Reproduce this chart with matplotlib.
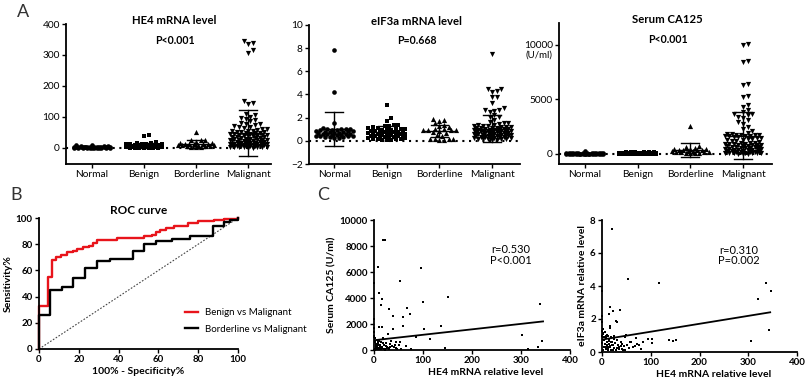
import matplotlib
matplotlib.use("Agg")
import matplotlib.pyplot as plt
import numpy as np

plt.rcParams['font.family'] = ['Lato', 'DejaVu Sans']

# ---- data ----
groups = ["Normal", "Benign", "Borderline", "Malignant"]
group_markers = ["o", "s", "^", "v"]

he4_normal = [10, 8, 6, 5.5, 5, 4.2, 4, 3.8, 3.3, 3.1, 3, 2.8, 2.7, 2.5, 2.4, 2.1, 2, 1.9,
              1.8, 1.7, 1.6, 1.5, 1.4, 1.2, 1.1, 1, 0.9, 0.9, 0.8, 0.7, 0.6, 0.5, 0.4, 0.3, 0.2]
he4_benign = [41, 40, 20, 16, 15, 14, 13, 12, 11.5, 11, 10, 9.6, 9, 8.7, 8.2, 8, 7.5, 7.1,
              7, 6.6, 6.2, 6, 5.7, 5.4, 5.1, 5, 4.6, 4.3, 4, 3.8, 3.6, 3.3, 3.1, 3, 2.8, 2.5,
              2.3, 2.1, 2, 1.8, 1.6, 1.5, 1.3, 1.1, 1, 0.9, 0.8, 0.5, 0.4, 0.3]
he4_border = [50, 27, 26, 24, 18, 16, 15, 14, 13, 12, 12, 11, 10, 10, 9, 8, 7, 6, 5, 4, 3, 2]
he4_malig = [345, 340, 337, 315, 306, 152, 146, 142, 111, 106, 101, 97, 93, 89, 86, 81, 78,
             76, 73, 70, 69, 66, 64, 62, 60, 59, 56, 55, 54, 52, 51, 50, 49, 48, 47, 46, 45,
             44, 43, 42, 41, 40, 39, 38, 37, 36, 35, 34, 33, 32, 31, 30, 29, 28, 27, 26, 26,
             25, 24, 23, 22, 21, 21, 20, 19, 18, 17, 17, 16, 15, 14, 14, 13, 12, 12, 11, 10,
             10, 9, 8, 8, 7, 7, 6, 6, 5, 5, 4, 4, 3, 3, 2, 2, 1.5, 1, 0.5]
he4_mean = [3, 7, 13, 48]
he4_sd = [2, 8, 13, 75]

eif_normal = [7.8, 4.2, 1.5, 1.1, 1.05, 1.0, 1.0, 0.98, 0.95, 0.92, 0.9, 0.88, 0.85, 0.82,
              0.8, 0.78, 0.75, 0.7, 0.68, 0.65, 0.62, 0.6, 0.58, 0.55, 0.52, 0.5, 0.48, 0.45,
              0.42, 0.4, 0.38, 0.35, 0.32, 0.3, 0.28, 0.25]
eif_benign = [3.1, 2.0, 1.7, 1.4, 1.35, 1.3, 1.25, 1.2, 1.15, 1.1, 1.05, 1.0, 0.98, 0.95,
              0.92, 0.9, 0.88, 0.85, 0.82, 0.8, 0.78, 0.75, 0.72, 0.7, 0.68, 0.65, 0.62, 0.6,
              0.58, 0.55, 0.52, 0.5, 0.48, 0.45, 0.42, 0.4, 0.38, 0.35, 0.32, 0.3, 0.28, 0.25,
              0.22, 0.2, 0.18, 0.15, 0.12, 0.1, 0.08, 0.05]
eif_border = [1.85, 1.8, 1.75, 1.5, 1.4, 1.25, 1.2, 1.0, 0.98, 0.96, 0.95, 0.93, 0.9, 0.85,
              0.8, 0.7, 0.5, 0.45, 0.2, 0.18, 0.15, 0.12, 0.1, 0.1]
eif_malig = [7.5, 4.5, 4.45, 4.3, 4.2, 3.8, 3.75, 3.3, 2.8, 2.7, 2.65, 2.6, 2.5, 2.2, 2.1,
             2.05, 1.8, 1.6, 1.55, 1.5, 1.45, 1.4, 1.35, 1.3, 1.28, 1.25, 1.22, 1.2, 1.18,
             1.15, 1.12, 1.1, 1.08, 1.05, 1.02, 1.0, 0.98, 0.96, 0.94, 0.92, 0.9, 0.88, 0.86,
             0.84, 0.82, 0.8, 0.78, 0.76, 0.74, 0.72, 0.7, 0.68, 0.66, 0.64, 0.62, 0.6, 0.58,
             0.56, 0.54, 0.52, 0.5, 0.48, 0.46, 0.44, 0.42, 0.4, 0.38, 0.36, 0.34, 0.32, 0.3,
             0.28, 0.26, 0.24, 0.22, 0.2, 0.18, 0.16, 0.14, 0.12, 0.1, 0.08]
eif_mean = [1.0, 0.75, 0.85, 1.05]
eif_sd = [1.45, 0.5, 0.5, 1.15]

ca_normal = [300, 120, 100, 90, 85, 80, 75, 70, 65, 60, 58, 55, 50, 48, 45, 42, 40, 38, 35,
             33, 30, 28, 25, 22, 20, 18, 15, 14, 12, 10, 9, 8, 6, 5, 3]
ca_benign = [200, 180, 170, 160, 150, 140, 130, 125, 120, 115, 110, 105, 100, 95, 90, 88, 85,
             80, 78, 75, 72, 70, 66, 63, 60, 58, 55, 52, 50, 48, 45, 42, 40, 38, 35, 32, 30,
             28, 25, 22, 20, 18, 16, 14, 12, 10, 8, 6, 4, 2]
ca_border = [2600, 700, 600, 520, 480, 450, 420, 400, 380, 350, 320, 300, 280, 250, 220, 200,
             180, 150, 120, 100, 80, 50]
ca_malig = [10050, 10000, 8500, 8450, 6400, 6350, 5350, 5200, 4500, 4300, 4050, 3800, 3700,
            3650, 3600, 3400, 3300, 3100, 2900, 2750, 2500, 2300, 2100, 1900, 1850, 1800,
            1780, 1750, 1720, 1700, 1680, 1650, 1620, 1600, 1580, 1550, 1500, 1450, 1400,
            1350, 1300, 1250, 1200, 1150, 1100, 1050, 1000, 980, 950, 920, 900, 870, 850,
            820, 800, 780, 750, 720, 700, 680, 650, 620, 600, 580, 550, 520, 500, 480, 450,
            420, 400, 380, 350, 320, 300, 280, 250, 230, 200, 180, 160, 140, 120, 100, 90,
            80, 70, 60, 50, 40, 30, 20]
ca_mean = [40, 60, 380, 1650]
ca_sd = [60, 60, 620, 2150]

# ROC curves (100% - specificity, sensitivity)
roc_benign_x = [0, 0, 4.5, 6.5, 8.5, 11, 14, 17, 19, 22, 25, 27, 29, 35, 39, 47, 53, 57, 59,
                61, 64, 68, 75, 80, 88, 93, 100]
roc_benign_y = [0, 33, 55, 68, 70, 71.5, 74, 75, 76.5, 78, 79, 81, 83, 83.5, 84.5, 85, 86,
                87, 89, 91, 92.5, 94, 96, 97.5, 98.5, 99.5, 100]
roc_border_x = [0, 0, 5.7, 11.7, 17, 23, 29, 35.5, 47, 53, 59, 67, 75.7, 87.4, 93, 96, 100]
roc_border_y = [0, 25.8, 45, 47, 54.5, 62, 67, 68.5, 75, 80.5, 82.5, 84, 86, 94, 97, 98.5, 100]

# correlation: HE4 vs CA125
c1_he4 = [18, 22, 9, 95, 54, 0, 11, 16, 14, 100, 151, 339, 31, 68, 73, 38, 60, 11, 17, 38,
          60, 102, 137, 114, 85, 303, 343, 334, 145, 315, 53, 29, 1, 0, 2, 3, 5, 7, 8, 10,
          12, 13, 15, 4, 6, 9, 20, 24, 26, 30, 33, 36, 40, 44, 47, 50, 3, 5, 8, 11, 14, 18,
          21, 25, 28, 2, 6, 10, 16, 19, 23, 27, 35, 42, 1, 4, 7, 12, 15, 22, 32, 45, 55, 65,
          75, 3, 9, 17, 26, 0, 0, 1, 2]
c1_ca = [8450, 8450, 6360, 6300, 5280, 5180, 4400, 3920, 3460, 3700, 4100, 3540, 3130, 3260,
         2800, 2600, 2560, 1800, 1750, 1640, 1850, 1640, 1850, 850, 975, 1130, 720, 230, 150,
         50, 640, 1230, 1700, 1400, 900, 600, 300, 800, 500, 700, 200, 400, 650, 100, 250,
         150, 350, 550, 120, 80, 450, 300, 200, 600, 100, 400, 50, 150, 420, 80, 250, 520,
         100, 300, 160, 700, 60, 380, 130, 900, 30, 220, 700, 350, 20, 480, 260, 140, 60, 40,
         260, 180, 90, 300, 50, 30, 580, 200, 120, 2400, 1000, 1100, 20]

# correlation: HE4 vs eIF3a
c2_he4 = [21, 54, 116, 337, 346, 319, 342, 306, 17, 23, 36, 14, 29, 30, 16, 16, 95, 103, 102,
          138, 145, 152, 72, 50, 60, 0, 0, 1, 2, 3, 4, 5, 6, 7, 8, 9, 10, 11, 12, 13, 14, 15,
          16, 18, 19, 20, 22, 24, 25, 27, 28, 31, 33, 35, 38, 40, 42, 45, 48, 52, 55, 58, 63,
          67, 75, 80, 2, 4, 6, 8, 10, 12, 14, 17, 20, 23, 26, 30, 34, 39, 44, 3, 5, 7, 9, 11,
          13, 15, 18, 21, 1, 0, 0, 3, 25, 47, 70, 85]
c2_ei = [7.45, 4.4, 4.16, 4.2, 3.7, 3.2, 1.33, 0.65, 2.7, 2.5, 2.55, 2.28, 1.9, 1.8, 1.6,
         1.45, 0.8, 0.8, 0.53, 0.73, 0.67, 0.73, 0.49, 1.05, 0.6, 3.7, 2.2, 1.8, 1.4, 1.1,
         0.9, 0.7, 0.5, 1.2, 0.3, 0.85, 0.6, 0.4, 1.0, 0.2, 0.75, 0.5, 0.35, 0.9, 0.15, 0.6,
         0.45, 0.8, 0.25, 0.55, 0.1, 0.7, 0.4, 0.3, 0.6, 0.2, 0.5, 0.35, 0.15, 0.45, 0.25, 0.6,
         0.3, 0.35, 0.4, 0.2, 0.1, 0.3, 0.5, 0.2, 0.4, 0.15, 0.65, 0.3, 0.45, 0.1, 0.55, 0.25,
         0.2, 0.35, 0.15, 0.9, 0.75, 0.5, 0.95, 1.05, 0.3, 0.8, 0.6, 0.45, 0.55, 1.0, 1.3,
         1.15, 0.95, 0.9, 0.85, 0.6]

W, H = 809, 384
fig = plt.figure(figsize=(W / 100, H / 100), dpi=100)


def px_axes(l, r, t, b):
    return fig.add_axes([l / W, 1 - b / H, (r - l) / W, (b - t) / H])


def swarm_x(vals, center, ylim, h_px, unit_px, diam=4.6, max_half_px=19):
    # greedy beeswarm in pixel space, lowest values placed first
    v = np.asarray(vals, dtype=float)
    ypx = (v - ylim[0]) / (ylim[1] - ylim[0]) * h_px
    order = np.argsort(ypx)
    xs = np.zeros(len(v))
    placed = []
    cands = [0.0]
    k = 1
    while k * diam / 2 <= max_half_px:
        cands += [k * diam / 2, -k * diam / 2]
        k += 1
    for i in order:
        best, best_d = 0.0, -1
        for c in cands:
            if placed:
                p = np.array(placed)
                d = np.min(np.hypot(p[:, 0] - c, p[:, 1] - ypx[i]))
            else:
                d = np.inf
            if d >= diam:
                best = c
                break
            if d > best_d:
                best, best_d = c, d
        placed.append((best, ypx[i]))
        xs[i] = center + best / unit_px
    return xs


def style_axes(ax, lw=1.3):
    for s in ["top", "right"]:
        ax.spines[s].set_visible(False)
    for s in ["left", "bottom"]:
        ax.spines[s].set_linewidth(lw)
    ax.tick_params(width=1, length=3, pad=1.5)


def dot_panel(ax, data, means, sds, ylim, yticks, xlim, title, ptext, h_px, w_px, tx=0.53):
    unit_px = w_px / (xlim[1] - xlim[0])
    for i, vals in enumerate(data):
        xs = swarm_x(vals, i, ylim, h_px, unit_px)
        sz = 14 if group_markers[i] in ("^", "v") else 11
        ax.scatter(xs, vals, marker=group_markers[i], s=sz, c="black", linewidths=0,
                   zorder=3, clip_on=False)
        m, s = means[i], sds[i]
        ax.plot([i, i], [m - s, m + s], color="black", lw=1, zorder=4)
        for yy in (m - s, m + s):
            ax.plot([i - 0.17, i + 0.17], [yy, yy], color="black", lw=1, zorder=4)
        ax.plot([i - 0.28, i + 0.28], [m, m], color="black", lw=1, zorder=4)
    ax.axhline(0, color="black", lw=1.5, ls=(0, (1, 2.2)), zorder=2)
    ax.set_xlim(*xlim)
    ax.set_ylim(*ylim)
    ax.set_yticks(yticks)
    ax.set_xticks(range(4))
    ax.set_xticklabels(groups)
    ax.tick_params(labelsize=7.3, colors="black")
    ax.tick_params(axis="x", pad=3)
    style_axes(ax)
    ax.set_title(title, fontsize=8.2, fontweight="bold", pad=0, x=tx, y=1.0)
    ax.text(tx, 0.86, ptext, transform=ax.transAxes, ha="center", fontsize=7.6,
            fontweight="bold")


# ---- panel A ----
axA1 = px_axes(66, 271, 24, 164)
dot_panel(axA1, [he4_normal, he4_benign, he4_border, he4_malig], he4_mean, he4_sd,
          (-52, 400), [0, 100, 200, 300, 400], (-0.5, 3.44), "HE4 mRNA level", "P<0.001",
          140, 205, tx=0.53)

axA2 = px_axes(309, 520, 25, 164)
dot_panel(axA2, [eif_normal, eif_benign, eif_border, eif_malig], eif_mean, eif_sd,
          (-2, 10), [-2, 0, 2, 4, 6, 8, 10], (-0.48, 3.53), "eIF3a mRNA level", "P=0.668",
          139, 211, tx=0.51)

axA3 = px_axes(559, 772, 23, 164)
dot_panel(axA3, [ca_normal, ca_benign, ca_border, ca_malig], ca_mean, ca_sd,
          (-920, 12000), [0, 5000, 10000], (-0.49, 3.55), "Serum CA125", "P<0.001",
          141, 213, tx=0.51)
axA3.text(-0.03, 0.775, "(U/ml)", transform=axA3.transAxes, ha="right", va="center",
          fontsize=7)

# ---- panel B ----
axB = px_axes(39, 238, 218, 349)
axB.plot([0, 100], [0, 100], color="#444444", lw=0.8, ls=(0, (1.5, 1.5)))
axB.plot(roc_benign_x, roc_benign_y, drawstyle="steps-post", color="#e8141b", lw=1.7,
         label="Benign vs Malignant", clip_on=False)
axB.plot(roc_border_x, roc_border_y, drawstyle="steps-post", color="black", lw=1.7,
         label="Borderline vs Malignant", clip_on=False)
axB.set_xlim(0, 100)
axB.set_ylim(0, 100)
axB.set_xticks(range(0, 101, 20))
axB.set_yticks(range(0, 101, 20))
style_axes(axB)
axB.tick_params(labelsize=7)
for lab in axB.get_xticklabels() + axB.get_yticklabels():
    lab.set_fontweight("bold")
axB.set_title("ROC curve", fontsize=8.5, fontweight="bold", pad=3)
axB.set_xlabel("100% - Specificity%", fontsize=7.5, fontweight="bold", labelpad=2)
axB.set_ylabel("Sensitivity%", fontsize=7.5, fontweight="bold", labelpad=2)
axB.legend(loc="lower left", bbox_to_anchor=(0.71, 0.08), frameon=False, fontsize=7,
           handlelength=1.3, handletextpad=0.7, labelspacing=0.75, borderpad=0)

# ---- panel C ----
def corr_panel(ax, x, y, ylim, yticks, ylabel, rtext, fit):
    ax.scatter(x, y, s=4, marker="s", c="black", linewidths=0, zorder=3, clip_on=False)
    xx = np.array([0, 345])
    ax.plot(xx, fit[0] + fit[1] * xx, color="black", lw=1.3)
    ax.set_xlim(0, 400)
    ax.set_ylim(*ylim)
    ax.set_xticks([0, 100, 200, 300, 400])
    ax.set_yticks(yticks)
    style_axes(ax)
    ax.tick_params(labelsize=7)
    for lab in ax.get_xticklabels() + ax.get_yticklabels():
        lab.set_fontweight("bold")
    ax.set_ylabel(ylabel, fontsize=7.5, fontweight="bold", labelpad=2)
    ax.text(0.57, -0.17, "HE4 mRNA relative level", transform=ax.transAxes, ha="center",
            va="center", fontsize=7.5, fontweight="bold")
    ax.text(0.7, 0.73, rtext, transform=ax.transAxes, ha="center", va="center",
            fontsize=8, linespacing=0.95)


axC1 = px_axes(374, 570, 220, 350)
corr_panel(axC1, c1_he4, c1_ca, (0, 10000), range(0, 10001, 2000), "Serum CA125 (U/ml)",
           "r=0.530\nP<0.001", (750, 4.2))

axC2 = px_axes(602, 797, 220, 352)
corr_panel(axC2, c2_he4, c2_ei, (0, 8), [0, 2, 4, 6, 8], "eIF3a mRNA relative level",
           "r=0.310\nP=0.002", (0.75, 0.0048))

# panel letters
fig.text(17 / W, 1 - 12 / H, "A", fontsize=13, color="#333333", va="center")
fig.text(10 / W, 1 - 195 / H, "B", fontsize=13, color="#333333", va="center")
fig.text(317 / W, 1 - 195 / H, "C", fontsize=13, color="#333333", va="center")

fig.savefig("out.png", dpi=100)
